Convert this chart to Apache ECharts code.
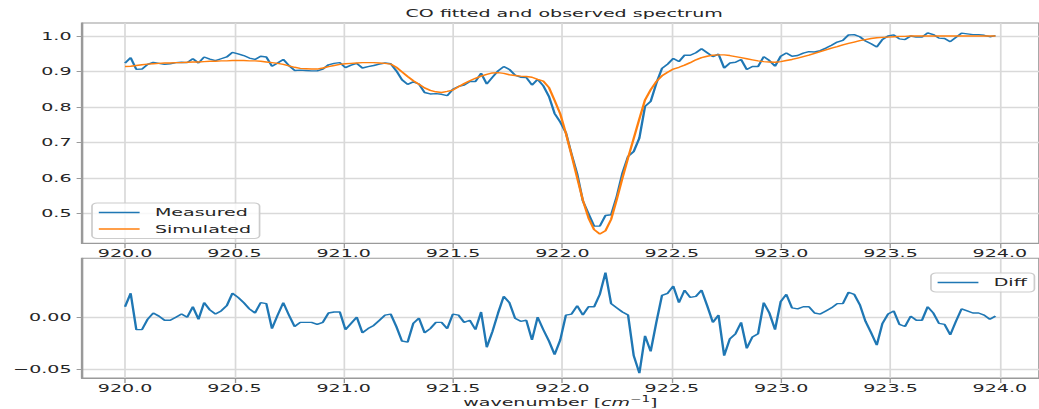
<!DOCTYPE html>
<html><head><meta charset="utf-8">
<script src="https://cdn.jsdelivr.net/npm/echarts@6/dist/echarts.min.js"></script>
<style>
html,body{margin:0;padding:0;background:#fff;overflow:hidden;width:1039px;height:409px;}
#chart{width:611px;height:409px;transform:scaleX(1.70049);transform-origin:0 0;}
</style></head><body><div id="chart"></div>
<script>
// sampling grid of the spectrum (wavenumber, cm^-1)
const waveStart = 920.0;
const waveEnd = 923.98;
const measured = [0.924,0.939,0.906,0.907,0.920,0.926,0.923,0.920,0.922,0.925,
 0.926,0.925,0.936,0.924,0.941,0.935,0.931,0.936,0.941,0.954,
 0.950,0.945,0.938,0.934,0.943,0.941,0.915,0.924,0.934,0.917,
 0.903,0.904,0.903,0.902,0.902,0.907,0.919,0.923,0.925,0.911,
 0.918,0.923,0.910,0.914,0.917,0.921,0.924,0.922,0.902,0.877,
 0.864,0.871,0.865,0.841,0.837,0.838,0.836,0.832,0.850,0.858,
 0.862,0.872,0.872,0.895,0.865,0.884,0.902,0.914,0.906,0.890,
 0.884,0.883,0.862,0.878,0.860,0.830,0.782,0.758,0.728,0.668,
 0.612,0.536,0.500,0.465,0.465,0.495,0.497,0.549,0.614,0.661,
 0.675,0.713,0.802,0.816,0.867,0.909,0.921,0.937,0.928,0.946,
 0.946,0.953,0.964,0.953,0.942,0.949,0.910,0.924,0.926,0.934,
 0.906,0.914,0.914,0.942,0.931,0.915,0.943,0.952,0.943,0.945,
 0.952,0.956,0.955,0.959,0.966,0.974,0.983,0.988,1.003,1.004,
 0.998,0.986,0.978,0.969,0.990,1.000,1.003,0.992,0.990,1.000,
 0.997,0.997,1.009,1.004,0.994,0.993,0.984,0.996,1.008,1.006,
 1.004,1.004,1.002,0.998,1.001];
const simulated = [0.914,0.915,0.917,0.919,0.921,0.922,0.923,0.924,0.924,0.925,
 0.925,0.926,0.927,0.927,0.928,0.929,0.929,0.930,0.930,0.931,
 0.931,0.931,0.930,0.930,0.929,0.927,0.925,0.923,0.920,0.916,
 0.912,0.909,0.908,0.907,0.907,0.910,0.914,0.917,0.920,0.922,
 0.923,0.924,0.925,0.925,0.925,0.924,0.923,0.921,0.912,0.899,
 0.886,0.874,0.864,0.854,0.847,0.843,0.841,0.844,0.848,0.857,
 0.866,0.874,0.881,0.887,0.892,0.896,0.897,0.895,0.891,0.889,
 0.887,0.886,0.884,0.878,0.873,0.855,0.819,0.781,0.726,0.665,
 0.601,0.538,0.488,0.455,0.443,0.452,0.484,0.540,0.600,0.657,
 0.712,0.767,0.820,0.849,0.872,0.888,0.898,0.907,0.912,0.918,
 0.925,0.933,0.939,0.943,0.946,0.947,0.947,0.945,0.942,0.939,
 0.936,0.933,0.930,0.928,0.927,0.926,0.928,0.931,0.934,0.938,
 0.942,0.946,0.951,0.956,0.961,0.966,0.970,0.975,0.979,0.983,
 0.987,0.990,0.993,0.995,0.996,0.997,0.998,0.999,0.999,1.000,
 1.000,1.000,1.000,1.000,1.000,1.000,1.000,1.000,1.000,1.000,
 1.000,1.000,1.000,1.000,1.000];
const diff = [0.010,0.023,-0.012,-0.012,-0.002,0.004,0.001,-0.003,-0.003,0.000,
 0.003,0.000,0.010,-0.002,0.014,0.007,0.003,0.006,0.011,0.023,
 0.019,0.014,0.008,0.004,0.014,0.013,-0.011,0.002,0.014,0.002,
 -0.009,-0.005,-0.005,-0.005,-0.007,-0.005,0.004,0.005,0.005,-0.012,
 -0.006,0.000,-0.015,-0.011,-0.008,-0.003,0.002,0.003,-0.009,-0.023,
 -0.024,-0.006,-0.001,-0.015,-0.011,-0.005,-0.005,-0.011,0.003,0.002,
 -0.005,-0.003,-0.012,0.005,-0.029,-0.014,0.004,0.020,0.014,-0.001,
 -0.004,-0.003,-0.022,0.000,-0.012,-0.023,-0.036,-0.022,0.002,0.003,
 0.011,0.002,0.010,0.010,0.022,0.043,0.013,0.009,0.005,0.002,
 -0.037,-0.054,-0.018,-0.033,-0.005,0.021,0.023,0.030,0.014,0.026,
 0.019,0.020,0.026,0.011,-0.005,0.002,-0.037,-0.021,-0.016,-0.005,
 -0.030,-0.019,-0.016,0.014,0.004,-0.012,0.015,0.022,0.009,0.008,
 0.010,0.010,0.004,0.003,0.006,0.009,0.013,0.013,0.024,0.022,
 0.012,-0.004,-0.015,-0.027,-0.006,0.003,0.006,-0.007,-0.009,0.001,
 -0.003,-0.003,0.010,0.004,-0.006,-0.007,-0.017,-0.004,0.008,0.006,
 0.004,0.004,0.002,-0.002,0.001];
const xTicks = [920.0, 920.5, 921.0, 921.5, 922.0, 922.5, 923.0, 923.5, 924.0];
const yTopTicks = [0.5, 0.6, 0.7, 0.8, 0.9, 1.0];
const yDiffTicks = [-0.05, 0.0];
const titleText = 'CO fitted and observed spectrum';
const seriesNames = ['Measured', 'Simulated', 'Diff'];

const step = (waveEnd - waveStart) / (measured.length - 1);
const wave = measured.map((_, i) => waveStart + i * step);
const pairs = arr => arr.map((v, i) => [wave[i], v]);

const FONT = 'DejaVu Sans';
const FS = 11.2;
const TXT = '#262626';
const FRAME = '#9a9a9a';
const GRIDC = '#d9d9d9';
const BLUE = '#1f77b4', ORANGE = '#ff7f0e';
const X_MIN = 919.802, X_MAX = 924.179;

function xAxisCfg(gi, withName) {
  const a = {
    gridIndex: gi, type: 'value', min: X_MIN, max: X_MAX,
    axisLine: { show: true, onZero: false, lineStyle: { color: FRAME, width: 1 } },
    axisTick: { show: true, length: 5, customValues: xTicks, lineStyle: { color: FRAME, width: 0.8 } },
    axisLabel: { customValues: xTicks, formatter: v => v.toFixed(1), margin: 5,
      fontSize: FS, fontFamily: FONT, color: TXT },
    splitLine: { show: true, lineStyle: { color: GRIDC, width: 1 } }
  };
  if (withName) {
    a.name = '{a|wavenumber [}{i|cm}{s|−1}{a|]}';
    a.nameLocation = 'middle';
    a.nameGap = 14;
    a.nameTextStyle = { fontFamily: FONT, fontSize: FS, color: TXT,
      rich: { a: { fontFamily: FONT, fontSize: FS, color: TXT, lineHeight: 15 },
              i: { fontFamily: FONT, fontSize: FS, color: TXT, fontStyle: 'italic', lineHeight: 15 },
              s: { fontFamily: FONT, fontSize: 8, color: TXT, lineHeight: 8, verticalAlign: 'top' } } };
  }
  return a;
}
function yAxisCfg(gi, min, max, ticks, fmt) {
  return {
    gridIndex: gi, type: 'value', min: min, max: max,
    axisLine: { show: true, onZero: false, lineStyle: { color: FRAME, width: 1 } },
    axisTick: { show: true, length: 3, customValues: ticks, lineStyle: { color: FRAME, width: 1 } },
    axisLabel: { customValues: ticks, formatter: fmt, margin: 6,
      fontSize: FS, fontFamily: FONT, color: TXT },
    splitLine: { show: true, lineStyle: { color: GRIDC, width: 1.3 } }
  };
}

const legendBase = {
  orient: 'vertical', icon: 'rect', itemWidth: 24, itemHeight: 1.5,
  borderColor: '#cccccc', borderWidth: 1, borderRadius: 3, backgroundColor: 'rgba(255,255,255,0.8)',
  textStyle: { fontFamily: FONT, fontSize: FS, color: TXT, lineHeight: 11, padding: [0, 0, 0, 4] }
};

const chart = echarts.init(document.getElementById('chart'), null, { renderer: 'svg' });
chart.setOption({
  animation: false,
  backgroundColor: '#ffffff',
  title: { text: titleText, left: 238.5, top: 8, padding: 0,
    textStyle: { fontFamily: FONT, fontSize: FS, fontWeight: 'normal', color: TXT } },
  grid: [
    { left: 48.05, right: -3.35, top: 23, height: 220.3, show: true, borderColor: FRAME, borderWidth: 1, backgroundColor: 'transparent' },
    { left: 48.05, right: -3.35, top: 258.3, height: 120, show: true, borderColor: FRAME, borderWidth: 1, backgroundColor: 'transparent' }
  ],
  legend: [
    Object.assign({}, legendBase, { data: [seriesNames[0], seriesNames[1]], left: 54.1, top: 203,
      itemGap: 5.6, padding: [4, 5, 4, 4] }),
    Object.assign({}, legendBase, { data: [seriesNames[2]], right: 2.7, top: 273,
      padding: [4, 4.5, 4, 3.9] })
  ],
  xAxis: [xAxisCfg(0, false), xAxisCfg(1, true)],
  yAxis: [
    yAxisCfg(0, 0.4167, 1.0366, yTopTicks, v => v.toFixed(1)),
    yAxisCfg(1, -0.0587, 0.0567, yDiffTicks, v => (v < -1e-9 ? '−' : '') + Math.abs(v).toFixed(2))
  ],
  series: [
    { name: seriesNames[0], type: 'line', xAxisIndex: 0, yAxisIndex: 0, data: pairs(measured),
      symbol: 'none', lineStyle: { color: BLUE, width: 1.4 }, itemStyle: { color: BLUE }, z: 3 },
    { name: seriesNames[1], type: 'line', xAxisIndex: 0, yAxisIndex: 0, data: pairs(simulated),
      symbol: 'none', lineStyle: { color: ORANGE, width: 1.4 }, itemStyle: { color: ORANGE }, z: 4 },
    { name: seriesNames[2], type: 'line', xAxisIndex: 1, yAxisIndex: 1, data: pairs(diff),
      symbol: 'none', lineStyle: { color: BLUE, width: 1.4 }, itemStyle: { color: BLUE }, z: 3 }
  ]
});
</script></body></html>
